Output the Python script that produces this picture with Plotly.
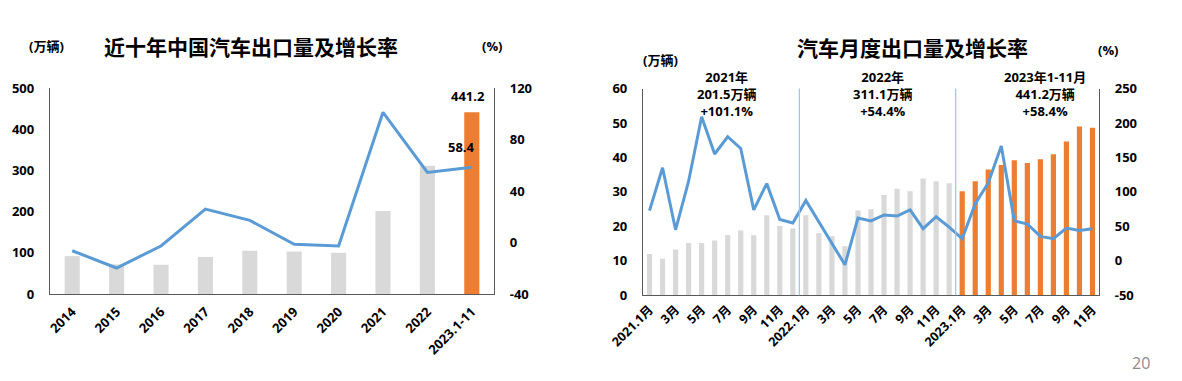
import plotly.graph_objects as go

# ---------------- data ----------------
years = ["2014", "2015", "2016", "2017", "2018", "2019", "2020", "2021", "2022", "2023.1-11"]
annual_volume = [92, 72, 71, 90, 105, 103, 100, 201.5, 311.1, 441.2]      # 万辆
annual_growth = [-6.4, -19.8, -2.7, 26.0, 17.2, -1.4, -2.7, 101.1, 54.4, 58.4]  # %

months = ([f"2021.{m}月" for m in range(1, 13)] +
          [f"2022.{m}月" for m in range(1, 13)] +
          [f"2023.{m}月" for m in range(1, 12)])
month_volume = [12.0, 10.6, 13.3, 15.2, 15.2, 15.9, 17.5, 18.8, 17.4, 23.2, 20.1, 19.4,
                23.2, 18.1, 17.1, 14.2, 24.6, 25.0, 29.1, 30.9, 30.2, 33.9, 33.1, 32.5,
                30.2, 33.1, 36.5, 37.8, 39.2, 38.4, 39.5, 40.9, 44.6, 49.0, 48.6]
month_growth = [72.8, 135, 45, 115.5, 209, 155, 180, 163, 74, 112, 60, 55,
                87.5, 56.5, 25, -5.8, 62, 58, 66.5, 65, 73.8, 46.6, 64, 49,
                32, 83, 113, 166.5, 58, 53.4, 35.4, 32, 47.6, 44.1, 46.6]
month_tick_labels = ["2021.1月", "3月", "5月", "7月", "9月", "11月",
                     "2022.1月", "3月", "5月", "7月", "9月", "11月",
                     "2023.1月", "3月", "5月", "7月", "9月", "11月"]
left_volume_ticks = [0, 100, 200, 300, 400, 500]
left_growth_ticks = [-40, 0, 40, 80, 120]
right_volume_ticks = [0, 10, 20, 30, 40, 50, 60]
right_growth_ticks = [-50, 0, 50, 100, 150, 200, 250]
year_notes = [("2021年", "201.5万辆", "+101.1%"),
              ("2022年", "311.1万辆", "+54.4%"),
              ("2023年1-11月", "441.2万辆", "+58.4%")]

GRAY = "#D9D9D9"
ORANGE = "#ED7D31"
BLUE = "#5B9BD5"
FONT = "Open Sans, Noto Sans CJK SC, sans-serif"
W, H = 1182, 381

def px_x(p):
    return p / W

def px_y(p):
    return 1 - p / H

fig = go.Figure()

# ---------- left chart ----------
fig.add_trace(go.Bar(
    x=years, y=annual_volume, xaxis="x", yaxis="y", width=0.34,
    marker=dict(color=[ORANGE if y.startswith("2023") else GRAY for y in years], line=dict(width=0)),
    showlegend=False))
fig.add_trace(go.Scatter(
    x=years, y=annual_growth, xaxis="x", yaxis="y2", mode="lines",
    line=dict(color=BLUE, width=3), showlegend=False))

# ---------- right chart ----------
fig.add_trace(go.Bar(
    x=months, y=month_volume, xaxis="x2", yaxis="y3", width=0.4,
    marker=dict(color=[ORANGE if m.startswith("2023") else GRAY for m in months], line=dict(width=0)),
    showlegend=False))
fig.add_trace(go.Scatter(
    x=months, y=month_growth, xaxis="x2", yaxis="y4", mode="lines",
    line=dict(color=BLUE, width=3), showlegend=False))

tickfont = dict(family=FONT, size=13, color="#000000", weight="bold")
axline = dict(showline=True, linecolor="#595959", linewidth=1.3, showgrid=False,
              zeroline=False, ticks="", automargin=False)

def ticks(vals):
    return dict(tickmode="array", tickvals=vals, ticktext=[str(v) for v in vals])

left_dom_x = [px_x(50), px_x(494)]
left_dom_y = [px_y(294), px_y(88)]
right_dom_x = [px_x(643), px_x(1099)]
right_dom_y = [px_y(295.3), px_y(88.5)]

odd_months = [m for m in months if int(m.split(".")[1].rstrip("月")) % 2 == 1]

fig.update_layout(
    template="none",
    width=W, height=H, margin=dict(l=0, r=0, t=0, b=0, autoexpand=False),
    paper_bgcolor="white", plot_bgcolor="rgba(0,0,0,0)",
    font=dict(family=FONT, color="#000000"),
    xaxis=dict(domain=left_dom_x, anchor="y", type="category", tickangle=-45,
               tickfont=tickfont, ticklabelstandoff=4, **axline),
    yaxis=dict(domain=left_dom_y, anchor="x", range=[0, 500], **ticks(left_volume_ticks),
               tickfont=tickfont, ticklabelstandoff=12, **axline),
    yaxis2=dict(overlaying="y", anchor="x", side="right", range=[-40, 120], **ticks(left_growth_ticks),
                tickfont=tickfont, ticklabelstandoff=12, **axline),
    xaxis2=dict(domain=right_dom_x, anchor="y3", type="category", tickangle=-45,
                tickvals=odd_months, ticktext=month_tick_labels,
                tickfont=dict(family=FONT, size=12.5, color="#000000", weight="bold"),
                ticklabelstandoff=1, **axline),
    yaxis3=dict(domain=right_dom_y, anchor="x2", range=[0, 60], **ticks(right_volume_ticks),
                tickfont=tickfont, ticklabelstandoff=12, **axline),
    yaxis4=dict(overlaying="y3", anchor="x2", side="right", range=[-50, 250], **ticks(right_growth_ticks),
                tickfont=tickfont, ticklabelstandoff=12, **axline),
)

# separator lines between years (right chart)
for boundary in [11.5, 23.5]:
    fig.add_shape(type="line", xref="x2", yref="paper", x0=boundary, x1=boundary,
                  y0=right_dom_y[0], y1=right_dom_y[1],
                  line=dict(color="#9DC3E6", width=1.2))

ann = []
bold = lambda s: f"<b>{s}</b>"
# titles and units
ann.append(dict(text=bold("近十年中国汽车出口量及增长率"), x=px_x(251), y=px_y(47), xref="paper", yref="paper",
                showarrow=False, font=dict(size=21, family=FONT), xanchor="center", yanchor="middle"))
ann.append(dict(text=bold("汽车月度出口量及增长率"), x=px_x(912), y=px_y(48), xref="paper", yref="paper",
                showarrow=False, font=dict(size=21, family=FONT), xanchor="center", yanchor="middle"))
ann.append(dict(text=bold("(万辆)"), x=px_x(46), y=px_y(46), xref="paper", yref="paper",
                showarrow=False, font=dict(size=13, family=FONT), xanchor="center", yanchor="middle"))
ann.append(dict(text=bold("(%)"), x=px_x(492), y=px_y(46), xref="paper", yref="paper",
                showarrow=False, font=dict(size=13, family=FONT), xanchor="center", yanchor="middle"))
ann.append(dict(text=bold("(万辆)"), x=px_x(660), y=px_y(60), xref="paper", yref="paper",
                showarrow=False, font=dict(size=13, family=FONT), xanchor="center", yanchor="middle"))
ann.append(dict(text=bold("(%)"), x=px_x(1108), y=px_y(50), xref="paper", yref="paper",
                showarrow=False, font=dict(size=13, family=FONT), xanchor="center", yanchor="middle"))
# value labels on left chart
ann.append(dict(text=bold(f"{annual_volume[-1]}"), x=years[-1], y=annual_volume[-1], xref="x", yref="y",
                showarrow=False, yshift=16, xshift=-4, font=dict(size=13, family=FONT)))
ann.append(dict(text=bold(f"{annual_growth[-1]}"), x=years[-1], y=annual_growth[-1], xref="x", yref="y2",
                showarrow=False, yshift=20, xshift=-10, font=dict(size=13, family=FONT)))
# year notes on right chart
note_x = [726, 882, 1045]
for (l1, l2, l3), nx in zip(year_notes, note_x):
    ann.append(dict(text=bold(l1) + "<br>" + bold(l2) + "<br>" + bold(l3),
                    x=px_x(nx), y=px_y(94), xref="paper", yref="paper", showarrow=False,
                    xanchor="center", yanchor="middle", align="center",
                    font=dict(size=13, family=FONT)))
# page number
ann.append(dict(text="20", x=px_x(1141), y=px_y(363), xref="paper", yref="paper", showarrow=False,
                xanchor="center", yanchor="middle", font=dict(size=16, color="#8C8C8C", family=FONT)))

fig.update_layout(annotations=ann)
fig.write_html("out.html", config={"displayModeBar": False},
               post_script="document.body.style.margin='0';document.body.style.overflow='hidden';")
